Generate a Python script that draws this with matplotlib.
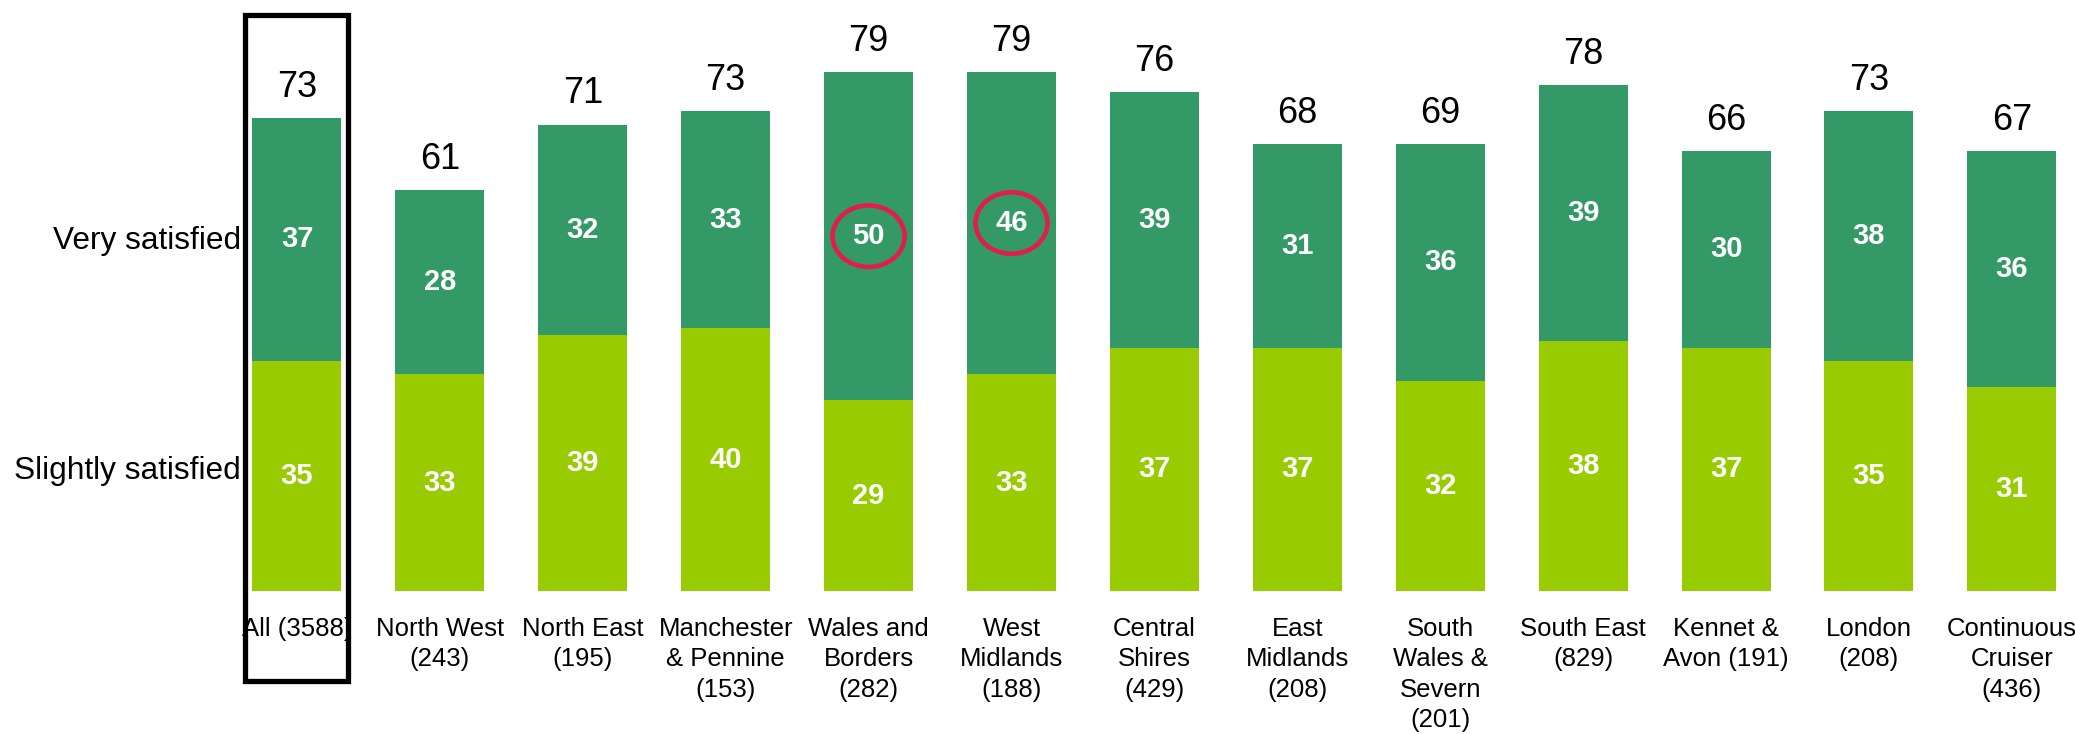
"""
Satisfaction by region: stacked bars of 'very' and 'slightly' satisfied shares.
"""
import matplotlib.pyplot as plt
from matplotlib.patches import Ellipse, Rectangle

# Region labels (with base sizes) and the two stacked shares
regions = [
  "All (3588)", "North West\n(243)", "North East\n(195)",
  "Manchester\n& Pennine\n(153)", "Wales and\nBorders\n(282)",
  "West\nMidlands\n(188)", "Central\nShires\n(429)", "East\nMidlands\n(208)",
  "South\nWales &\nSevern\n(201)", "South East\n(829)", "Kennet &\nAvon (191)",
  "London\n(208)", "Continuous\nCruiser\n(436)",
]
slightly_satisfied = [35, 33, 39, 40, 29, 33, 37, 37, 32, 38, 37, 35, 31]
very_satisfied = [37, 28, 32, 33, 50, 46, 39, 31, 36, 39, 30, 38, 36]
total_satisfied = [73, 61, 71, 73, 79, 79, 76, 68, 69, 78, 66, 73, 67]

# Regions whose 'very satisfied' share is highlighted
highlighted = [4, 5]

dark_green = "#339966"
light_green = "#99CC00"
plt.rcParams["font.family"] = ["Liberation Sans", "DejaVu Sans"]

fig = plt.figure(figsize=(20.75, 7.34), dpi=100)
ax = fig.add_axes([0, 0, 1, 1])
ax.set_xlim(-2.078, 12.442)
ax.set_ylim(-21.77, 89.95)
ax.axis("off")

positions = list(range(len(regions)))
bar_width = 0.623

# Draw the stacked bars
ax.bar(positions, slightly_satisfied, width=bar_width, color=light_green)
ax.bar(positions, very_satisfied, width=bar_width, bottom=slightly_satisfied,
       color=dark_green)

for i in positions:
  low = slightly_satisfied[i]
  high = very_satisfied[i]
  # Segment values inside the bars
  ax.text(i, low / 2, str(low), ha="center", va="center", color="white",
          fontsize=21, fontweight="bold")
  ax.text(i, low + high / 2, str(high), ha="center", va="center",
          color="white", fontsize=21, fontweight="bold")
  # Total above each bar
  ax.text(i, low + high + 3.2, str(total_satisfied[i]), ha="center",
          va="baseline", fontsize=26)
  # Region name under each bar
  ax.text(i, -3.9, regions[i], ha="center", va="top", fontsize=18.5,
          linespacing=1.34)

# Circle the highlighted values
for i in highlighted:
  ax.add_patch(Ellipse(
    (i, slightly_satisfied[i] + very_satisfied[i] / 2), 0.504, 9.36,
    fill=False, edgecolor="#E31B4E", linewidth=3.3))

# Frame around the overall bar
ax.add_patch(Rectangle((-0.364, -13.7), 0.724, 101.4, fill=False,
                       edgecolor="black", linewidth=3.8, clip_on=False))

# Series names on the left
ax.text(-0.392, 53.3, "Very satisfied", ha="right", va="center", fontsize=22.8)
ax.text(-0.392, 18.3, "Slightly satisfied", ha="right", va="center",
        fontsize=22.8)

fig.savefig("out.png", dpi=100)
